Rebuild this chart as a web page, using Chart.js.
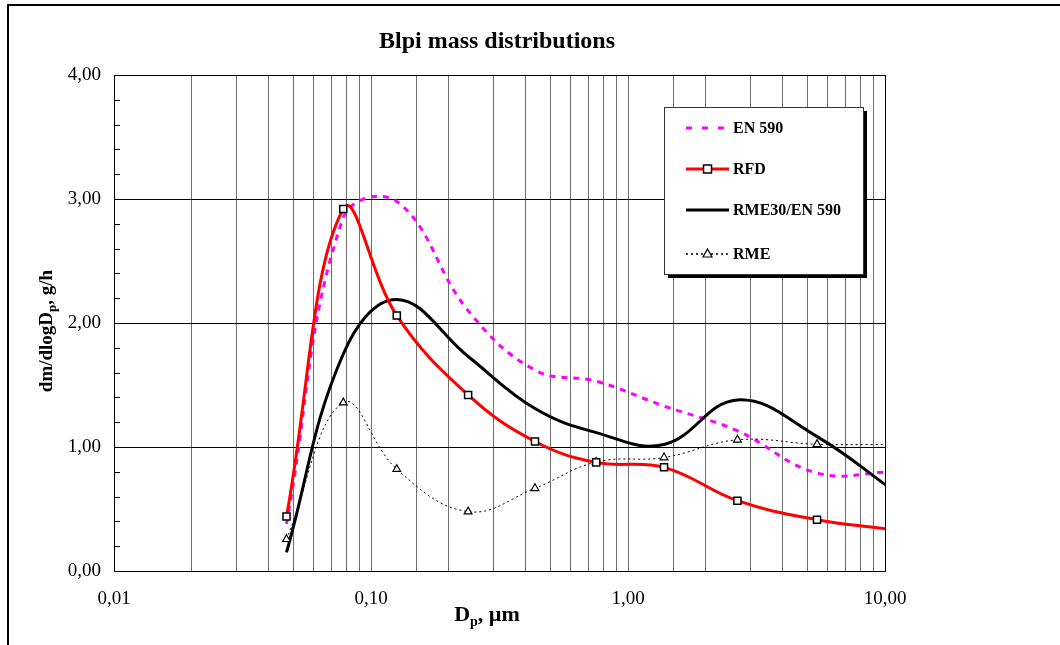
<!DOCTYPE html>
<html>
<head>
<meta charset="utf-8">
<script src="https://cdn.jsdelivr.net/npm/chart.js"></script>
<style>
html, body { margin: 0; padding: 0; background: #fff; overflow: hidden; }
#frame { position: absolute; left: 7px; top: 4px; width: 1200px; height: 800px; border-top: 2px solid #000; border-left: 2px solid #000; }
#wrap { position: absolute; left: 0; top: 0; width: 1060px; height: 645px; }
</style>
</head>
<body>
<div id="frame"></div>
<div id="wrap"><canvas id="myChart" width="1060" height="645"></canvas></div>

<script>
// Data, x = particle diameter in um
const sizes  = [0.0469, 0.078, 0.126, 0.2387, 0.4346, 0.752, 1.381, 2.666, 5.44, 10.6];
const en590  = [0.38, 2.85, 2.98, 2.10, 1.62, 1.53, 1.33, 1.13, 0.79, 0.80];
const rfd    = [0.44, 2.92, 2.06, 1.42, 1.044, 0.876, 0.836, 0.567, 0.414, 0.335];
const rme30  = [0.15, 1.75, 2.19, 1.73, 1.31, 1.116, 1.02, 1.38, 1.084, 0.66];
const rme    = [0.256, 1.358, 0.821, 0.479, 0.667, 0.879, 0.915, 1.058, 1.022, 1.02];
const seriesNames = ['EN 590', 'RFD', 'RME30/EN 590', 'RME'];
const yTicks = [0, 1, 2, 3, 4];

const FONT = "'Liberation Serif', 'Times New Roman', serif";

function pts(vals) {
  return sizes.map((s, i) => ({ x: s, y: vals[i] }));
}
// no marker on the last point (it sits past the right edge)
const markR = r => sizes.map((s, i) => i === sizes.length - 1 ? 0 : r);

const data = {
  datasets: [
    {
      label: seriesNames[0], data: pts(en590),
      borderColor: '#ff00ff', borderWidth: 3, borderDash: [6, 6],
      pointRadius: 0, tension: 0.4, order: 3
    },
    {
      label: seriesNames[1], data: pts(rfd),
      borderColor: '#ff0000', borderWidth: 3,
      pointStyle: 'rect', pointRadius: markR(5), pointBackgroundColor: '#fff',
      pointBorderColor: '#000', pointBorderWidth: 1.5, tension: 0.4, order: 0
    },
    {
      label: seriesNames[2], data: pts(rme30),
      borderColor: '#000', borderWidth: 3,
      pointRadius: 0, tension: 0.4, order: 2
    },
    {
      label: seriesNames[3], data: pts(rme),
      borderColor: '#000', borderWidth: 1, borderDash: [2, 3],
      pointStyle: 'triangle', pointRadius: markR(4.5), pointBackgroundColor: '#fff',
      pointBorderColor: '#000', pointBorderWidth: 1.2, tension: 0.4, order: 1
    }
  ]
};

function isDecade(v) {
  const l = Math.log10(v);
  return Math.abs(l - Math.round(l)) < 1e-9;
}

// extra drawing: title, axis titles with subscripts, minor y ticks, legend box
const decor = {
  id: 'decor',
  afterDraw(chart) {
    const ctx = chart.ctx;
    const ys = chart.scales.y;
    const area = chart.chartArea;
    ctx.save();

    // minor ticks on the y axis, pointing inward
    ctx.strokeStyle = '#000';
    ctx.lineWidth = 1;
    for (let i = 0; i <= 20; i++) {
      const y = Math.round(ys.getPixelForValue(i * 0.2)) + 0.5;
      ctx.beginPath();
      ctx.moveTo(area.left, y);
      ctx.lineTo(area.left + 6, y);
      ctx.stroke();
    }

    // title
    ctx.fillStyle = '#000';
    ctx.textBaseline = 'middle';
    ctx.textAlign = 'center';
    ctx.font = 'bold 24px ' + FONT;
    ctx.fillText('Blpi mass distributions', 497, 42);

    // x title: Dp, um
    ctx.textAlign = 'left';
    ctx.textBaseline = 'alphabetic';
    const big = 'bold 22px ' + FONT, small = 'bold 14px ' + FONT;
    ctx.font = big;
    const wD = ctx.measureText('D').width;
    const wRest = ctx.measureText(', \u00b5m').width;
    ctx.font = small;
    const wp = ctx.measureText('p').width;
    let x0 = 487 - (wD + wp + wRest) / 2;
    const by = 621;
    ctx.font = big; ctx.fillText('D', x0, by);
    ctx.font = small; ctx.fillText('p', x0 + wD, by + 5);
    ctx.font = big; ctx.fillText(', \u00b5m', x0 + wD + wp, by);

    // y title: dm/dlogDp, g/h
    ctx.save();
    ctx.translate(52, 331);
    ctx.rotate(-Math.PI / 2);
    const yb = 'bold 19px ' + FONT, ysm = 'bold 13px ' + FONT;
    ctx.font = yb;
    const w1 = ctx.measureText('dm/dlogD').width;
    const w3 = ctx.measureText(', g/h').width;
    ctx.font = ysm;
    const w2 = ctx.measureText('p').width;
    let sx = -(w1 + w2 + w3) / 2;
    ctx.font = yb; ctx.fillText('dm/dlogD', sx, 0);
    ctx.font = ysm; ctx.fillText('p', sx + w1, 4);
    ctx.font = yb; ctx.fillText(', g/h', sx + w1 + w2, 0);
    ctx.restore();

    // legend box with shadow
    const lx = 664, ly = 107, lw = 199, lh = 167;
    ctx.fillStyle = '#000';
    ctx.fillRect(lx + 4, ly + 4, lw, lh);
    ctx.fillStyle = '#fff';
    ctx.fillRect(lx, ly, lw, lh);
    ctx.strokeStyle = '#333';
    ctx.lineWidth = 1;
    ctx.strokeRect(lx + 0.5, ly + 0.5, lw, lh);

    const rows = [128, 169, 210, 254];
    const sx0 = 686, sx1 = 729, mid = 707.5;
    chart.data.datasets.forEach((ds, i) => {
      const y = rows[i];
      ctx.save();
      ctx.strokeStyle = ds.borderColor;
      ctx.lineWidth = ds.borderWidth === 1 ? 1.5 : ds.borderWidth;
      ctx.setLineDash(i === 0 ? [6, 10] : (ds.borderDash || []));
      ctx.beginPath();
      ctx.moveTo(sx0, y);
      ctx.lineTo(sx1, y);
      ctx.stroke();
      ctx.restore();
      if (ds.pointStyle === 'rect') {
        ctx.fillStyle = '#fff';
        ctx.fillRect(mid - 4, y - 4, 8, 8);
        ctx.strokeStyle = '#000';
        ctx.lineWidth = 1.5;
        ctx.strokeRect(mid - 4, y - 4, 8, 8);
      } else if (ds.pointStyle === 'triangle') {
        ctx.fillStyle = '#fff';
        ctx.strokeStyle = '#000';
        ctx.lineWidth = 1.2;
        ctx.beginPath();
        ctx.moveTo(mid, y - 5);
        ctx.lineTo(mid + 4.5, y + 3);
        ctx.lineTo(mid - 4.5, y + 3);
        ctx.closePath();
        ctx.fill();
        ctx.stroke();
      }
      ctx.fillStyle = '#000';
      ctx.font = 'bold 16px ' + FONT;
      ctx.textAlign = 'left';
      ctx.textBaseline = 'middle';
      ctx.fillText(ds.label, 733, y + 1);
    });

    ctx.restore();
  }
};

const config = {
  type: 'line',
  data: data,
  options: {
    responsive: false,
    animation: false,
    devicePixelRatio: 1,
    layout: { padding: { left: 0, top: 75, right: 175, bottom: 0 } },
    plugins: {
      legend: { display: false },
      tooltip: { enabled: false },
      title: { display: false }
    },
    scales: {
      x: {
        type: 'logarithmic',
        min: 0.01,
        max: 10,
        border: { display: true, color: '#000', width: 1 },
        grid: {
          drawTicks: false,
          color: c => (c.tick && c.tick.value >= 9.99) ? '#000' : '#6e6e6e',
          lineWidth: 1
        },
        ticks: {
          autoSkip: false,
          maxRotation: 0,
          padding: 17,
          color: '#000',
          font: { family: FONT, size: 19 },
          callback: v => isDecade(v) ? Number(v).toFixed(2).replace('.', ',') : ''
        },
        afterFit: s => { s.height = 74; }
      },
      y: {
        min: 0,
        max: 4,
        afterBuildTicks: s => { s.ticks = yTicks.map(v => ({ value: v })); },
        border: { display: true, color: '#000', width: 1 },
        grid: { drawTicks: false, color: '#000', lineWidth: 1 },
        ticks: {
          padding: 13,
          color: '#000',
          font: { family: FONT, size: 19 },
          callback: v => Number(v).toFixed(2).replace('.', ',')
        },
        afterFit: s => { s.width = 114; }
      }
    }
  },
  plugins: [decor]
};

var myChart = new Chart(document.getElementById('myChart'), config);
</script>
</body>
</html>
